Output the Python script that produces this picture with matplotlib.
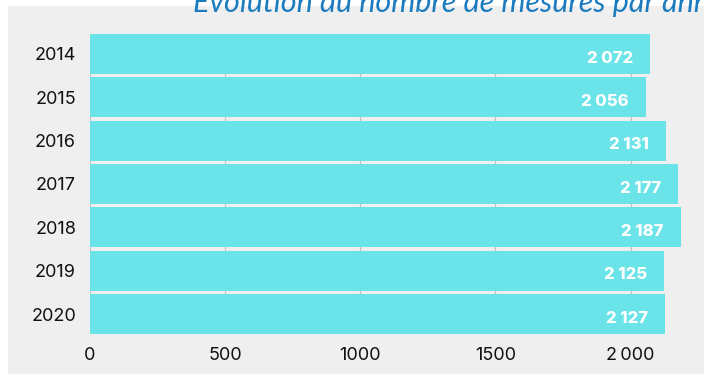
import matplotlib.pyplot as plt
from matplotlib.patches import Rectangle

# data
years = ["2014", "2015", "2016", "2017", "2018", "2019", "2020"]
counts = [2072, 2056, 2131, 2177, 2187, 2125, 2127]
count_labels = ["2 072", "2 056", "2 131", "2 177", "2 187", "2 125", "2 127"]
x_ticks = [0, 500, 1000, 1500, 2000]
x_tick_labels = ["0", "500", "1000", "1500", "2\u2009000"]
title = "Évolution du nombre de mesures par année"

W, H = 704, 374
BAR_COLOR = "#6ae4e8"
PANEL = "#efefef"

plt.rcParams['font.family'] = ['Inter', 'DejaVu Sans']

fig = plt.figure(figsize=(W / 100, H / 100), dpi=100, facecolor="white")

# gray panel behind the chart
fig.patches.append(Rectangle((8 / W, 0), 1, 1 - 6 / H, transform=fig.transFigure,
                             facecolor=PANEL, edgecolor="none", zorder=-10))

ax = fig.add_axes([90 / W, 40 / H, 1 - 90 / W, 300 / H])
ax.set_zorder(1)
ax.patch.set_alpha(0)

ypos = list(range(len(years)))
ax.barh(ypos, counts, height=0.92, color=BAR_COLOR, zorder=2)

for y, v, lab in zip(ypos, counts, count_labels):
    ax.annotate(lab, (v, y), xytext=(-12.5, -3), textcoords="offset points",
                ha="right", va="center", color="white", fontsize=12,
                fontweight="heavy", zorder=3)

ax.set_ylim(len(years) - 0.54, -0.46)
ax.set_xlim(0, (W - 90) / 0.2703)
ax.set_yticks(ypos)
ax.set_yticklabels(years)
ax.set_xticks(x_ticks)
ax.set_xticklabels(x_tick_labels)
ax.tick_params(length=0, labelsize=13, colors="#111111")
ax.tick_params(axis="x", pad=9)
ax.tick_params(axis="y", pad=10)
ax.grid(axis="x", color="#c0c0c0", linewidth=0.8, zorder=1)
ax.set_axisbelow(True)
for s in ax.spines.values():
    s.set_visible(False)

fig.text(193 / W, 1 - 12 / H, title, ha="left", va="baseline", color="#1a7bbf",
         fontsize=22, style="italic", family=["Lato", "DejaVu Sans"], zorder=5)

fig.savefig("out.png", dpi=100, facecolor="white")
